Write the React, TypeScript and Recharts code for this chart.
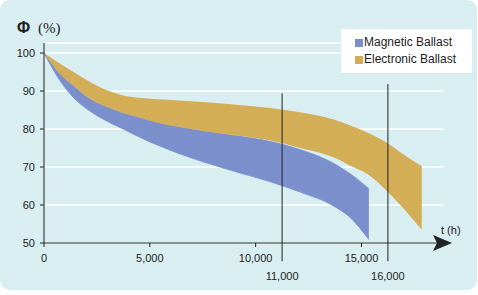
import React from "react";
import {
  ComposedChart,
  Area,
  XAxis,
  YAxis,
  CartesianGrid,
  ReferenceLine,
  ReferenceDot,
  Legend,
} from "recharts";

// operating hours (t) and luminous flux bands (%)
const hours = [0, 700, 1400, 2200, 3000, 3700, 4500, 5300, 6400, 7500, 9100, 10700, 12100, 13700, 14450, 15350, 16250, 16800, 17850];
const magneticHigh = [100, 94.8, 91.3, 87.8, 85.7, 84.3, 83.0, 81.7, 80.5, 79.5, 78.2, 76.7, 74.6, 70.9, 68.3, 64.3, null, null, null];
const magneticLow = [100, 93.2, 88.2, 84.6, 82.0, 80.1, 77.9, 75.9, 73.5, 71.4, 68.7, 66.1, 63.4, 59.7, 56.8, 50.9, null, null, null];
const electronicHigh = [100, 97.4, 95.0, 92.3, 90.1, 88.9, 88.2, 87.8, 87.5, 87.1, 86.4, 85.5, 84.4, 82.5, 81.0, 78.9, 76.2, 74.0, 70.2];
const electronicLow = [100, 94.8, 91.3, 87.8, 85.7, 84.3, 83.0, 81.7, 80.5, 79.5, 78.3, 77.0, 75.0, 72.5, 70.4, 67.9, 63.4, 60.2, 53.5];

const xTicks = [0, 5000, 10000, 15000];
const yTicks = [50, 60, 70, 80, 90, 100];

// marked hours: where the line sits, its label, and the flux where it starts
const markerHours = [11250, 16250];
const markerLabels = ["11,000", "16,000"];
const markerTops = [89.4, 91.8];

const seriesNames = ["Magnetic Ballast", "Electronic Ballast"];
const BLUE = "#7a8fcb";
const GOLD = "#d4ad57";
const INK = "#222";
const FONT = "'Liberation Sans', Arial, sans-serif";

const data = hours.map((t, i) => ({
  t,
  magnetic: magneticHigh[i] == null ? null : [magneticLow[i], magneticHigh[i]],
  electronic: [electronicLow[i], electronicHigh[i]],
}));

function LegendBox() {
  const colors = [BLUE, GOLD];
  return (
    <div style={{ position: "relative", width: 131, height: 44, background: "#fff" }}>
      {seriesNames.map((name, i) => (
        <React.Fragment key={name}>
          <div style={{ position: "absolute", left: 14, top: 10 + i * 17, width: 8, height: 8, background: colors[i] }} />
          <div style={{ position: "absolute", left: 23, top: 6 + i * 17, fontFamily: FONT, fontSize: 12, lineHeight: "14px", color: INK, whiteSpace: "nowrap" }}>
            {name}
          </div>
        </React.Fragment>
      ))}
    </div>
  );
}

const Arrow = (props: any) => {
  const { cx, cy } = props;
  return <polygon points={`${cx - 11},${cy - 8} ${cx + 8},${cy} ${cx - 11},${cy + 8} ${cx - 7},${cy}`} fill={INK} />;
};

export default function App() {
  return (
    <div style={{ position: "absolute", left: 0, top: 0, width: 478, height: 295, background: "#fff" }}>
      <div style={{ position: "absolute", left: 0, top: 0, width: 477, height: 290, borderRadius: 10, background: "#d9eef0" }} />
      <div style={{ position: "absolute", left: 0, top: 0 }}>
        <ComposedChart width={478} height={295} data={data} margin={{ top: 43, right: 34, bottom: 22, left: 0 }}>
          <CartesianGrid vertical={false} stroke="#fff" strokeWidth={1.5} />
          <XAxis
            type="number"
            dataKey="t"
            domain={[0, 18900]}
            ticks={xTicks}
            allowDataOverflow
            height={30}
            tickSize={4}
            tickMargin={7}
            axisLine={{ stroke: INK }}
            tickLine={{ stroke: INK }}
            tick={{ fill: INK, fontSize: 11, fontFamily: FONT }}
            tickFormatter={(v: number) => v.toLocaleString("en-US")}
          />
          <YAxis
            type="number"
            domain={[50, 102.63]}
            ticks={yTicks}
            allowDataOverflow
            width={44}
            tickSize={4}
            tickMargin={5}
            axisLine={{ stroke: INK }}
            tickLine={{ stroke: INK }}
            tick={{ fill: INK, fontSize: 11, fontFamily: FONT }}
          />
          <Area
            name={seriesNames[0]}
            dataKey="magnetic"
            type="monotone"
            fill={BLUE}
            fillOpacity={1}
            stroke={BLUE}
            strokeWidth={0.8}
            isAnimationActive={false}
          />
          <Area
            name={seriesNames[1]}
            dataKey="electronic"
            type="monotone"
            fill={GOLD}
            fillOpacity={1}
            stroke="none"
            isAnimationActive={false}
          />
          {markerHours.map((t, i) => (
            <ReferenceLine
              key={t}
              segment={[{ x: t, y: markerTops[i] }, { x: t, y: 45.2 }]}
              stroke={INK}
              strokeWidth={1}
              ifOverflow="visible"
              label={{ value: markerLabels[i], position: "bottom", offset: 11, fill: INK, fontSize: 11, fontFamily: FONT }}
            />
          ))}
          <ReferenceDot x={18900} y={50} ifOverflow="visible" shape={Arrow} />
          <Legend
            layout="horizontal"
            verticalAlign="middle"
            align="center"
            content={() => <LegendBox />}
            wrapperStyle={{ left: 341, top: 29, width: 131, height: 44 }}
          />
        </ComposedChart>
      </div>
      <svg width={478} height={295} style={{ position: "absolute", left: 0, top: 0, pointerEvents: "none" }}>
        <text x={17} y={33} fontFamily={FONT} fontWeight="bold" fontSize={16} fill={INK}>Φ</text>
        <text x={38} y={33} fontFamily="'Liberation Serif', 'Times New Roman', serif" fontSize={15} fill={INK}>(%)</text>
        <text x={441} y={234} fontFamily={FONT} fontSize={11} fill={INK}>t (h)</text>
      </svg>
    </div>
  );
}
